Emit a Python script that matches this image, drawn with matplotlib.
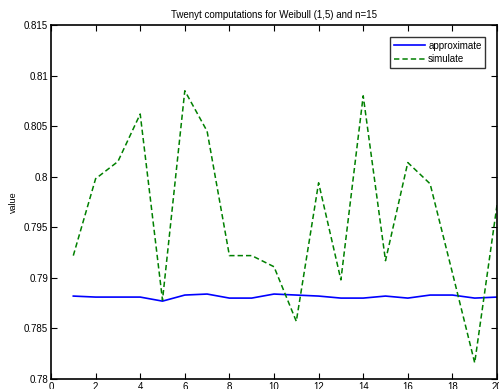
import matplotlib
matplotlib.use("Agg")
import matplotlib.pyplot as plt

x = list(range(1, 21))
approximate = [0.7882, 0.7881, 0.7881, 0.7881, 0.7877, 0.7883, 0.7884, 0.7880, 0.7880, 0.7884,
               0.7883, 0.7882, 0.7880, 0.7880, 0.7882, 0.7880, 0.7883, 0.7883, 0.7880, 0.7881]
simulate = [0.7922, 0.7998, 0.8015, 0.8062, 0.7878, 0.8085, 0.8045, 0.7922, 0.7922, 0.7911,
            0.7857, 0.7994, 0.7898, 0.8080, 0.7917, 0.8014, 0.7993, 0.7905, 0.7816, 0.7972]
xticks = list(range(0, 21, 2))
yticks = [0.78, 0.785, 0.79, 0.795, 0.8, 0.805, 0.81, 0.815]
ytick_labels = ['0.78', '0.785', '0.79', '0.795', '0.8', '0.805', '0.81', '0.815']

plt.rcParams['font.family'] = ['Liberation Sans', 'DejaVu Sans']
fig = plt.figure(figsize=(4.99, 3.89), dpi=100)
ax = fig.add_axes([0.1022, 0.0257, 0.8938, 0.91])
ax.plot(x, approximate, color='#0000ff', lw=1.2, label='approximate')
ax.plot(x, simulate, color='#008000', lw=1.1, ls=(0, (3.5, 2.0)), label='simulate')
ax.set_xlim(0, 20)
ax.set_ylim(0.78, 0.815)
ax.set_xticks(xticks)
ax.set_yticks(yticks)
ax.set_yticklabels(ytick_labels)
ax.tick_params(direction='in', top=True, right=True, labelsize=7, length=4, width=0.8, pad=2)
for s in ax.spines.values():
    s.set_linewidth(1.2)
ax.set_ylabel('value', fontsize=6.5, labelpad=4)
ax.set_title('Twenyt computations for Weibull (1,5) and n=15', fontsize=7, pad=5)
leg = ax.legend(loc='upper right', fontsize=7, frameon=True, fancybox=False, edgecolor='black',
                handlelength=3.2, borderpad=0.4, labelspacing=0.35, handletextpad=0.3,
                bbox_to_anchor=(0.985, 0.98))
leg.get_frame().set_linewidth(1.0)
fig.savefig('out.png', dpi=100)
